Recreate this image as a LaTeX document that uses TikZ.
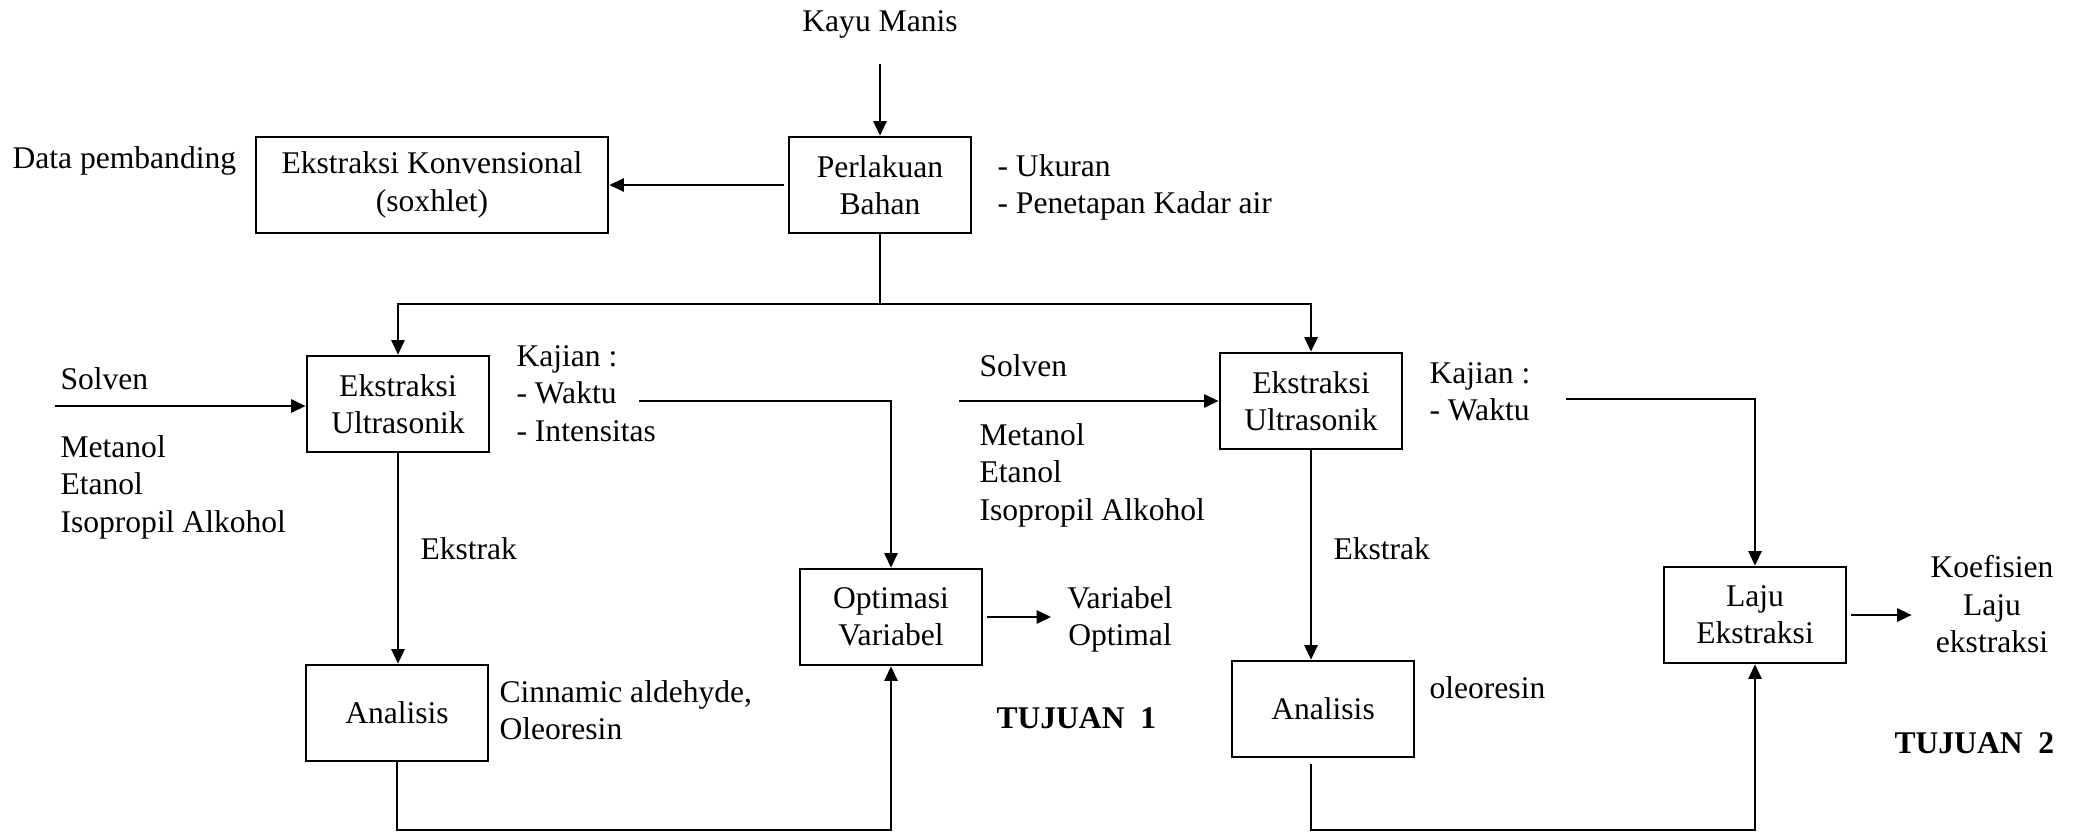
\documentclass[tikz,border=0pt]{standalone}
\usepackage{fontspec}
\setmainfont{Liberation Serif}
\usetikzlibrary{arrows.meta}

\tikzset{
	box/.style={draw, line width=1pt, minimum width=69.2pt, minimum height=36.5pt, align=center, inner sep=0pt},
	txt/.style={inner sep=0pt, align=left},
	arr/.style={-{Triangle[length=5.5pt,width=5pt]}, line width=0.8pt},
	ln/.style={line width=0.8pt},
	tujuan/.style={inner sep=0pt, anchor=base west, font=\fontsize{12}{14.2}\selectfont\bfseries},
}

\begin{document}
\begin{tikzpicture}[x=0.38pt, y=-0.38pt, font=\fontsize{12}{14.2}\selectfont]
	\useasboundingbox (0,0) rectangle (2082,833);

	\node [box] (bahan) at (880,185) {Perlakuan\\Bahan};
	\node [box, minimum width=133.8pt] (konv) at (432,185) {Ekstraksi Konvensional\\(soxhlet)};
	\node [box] (ult1) at (398,404) {Ekstraksi\\Ultrasonik};
	\node [box] (ana1) at (397,713) {Analisis};
	\node [box] (opt) at (891,617) {Optimasi\\Variabel};
	\node [box] (ult2) at (1311,401) {Ekstraksi\\Ultrasonik};
	\node [box] (ana2) at (1323,709) {Analisis};
	\node [box] (laju) at (1755,615) {Laju\\Ekstraksi};

	\node [txt, anchor=base] (kayu) at (880,32) {Kayu Manis};
	\node [txt, anchor=base west] (data) at (12,168) {Data pembanding};
	\node [txt, anchor=north west] (uk) at (997,154) {- Ukuran\\- Penetapan Kadar air};

	\node [txt, anchor=base west] (sol1) at (60,389) {Solven};
	\node [txt, anchor=north west] (pel1) at (60,435) {Metanol\\Etanol\\Isopropil Alkohol};
	\node [txt, anchor=north west] (kaj1) at (516,345) {Kajian :\\- Waktu\\- Intensitas};
	\node [txt, anchor=base west] (eks1) at (420,559) {Ekstrak};
	\node [txt, anchor=north west] (has1) at (499,680) {Cinnamic aldehyde,\\Oleoresin};
	\node [txt, anchor=north, align=center] (vo) at (1120,586) {Variabel\\Optimal};
	\node [tujuan] (tj1) at (996,728) {TUJUAN\ \ 1};

	\node [txt, anchor=base west] (sol2) at (979,376) {Solven};
	\node [txt, anchor=north west] (pel2) at (979,423) {Metanol\\Etanol\\Isopropil Alkohol};
	\node [txt, anchor=north west] (kaj2) at (1429,362) {Kajian :\\- Waktu};
	\node [txt, anchor=base west] (eks2) at (1333,559) {Ekstrak};
	\node [txt, anchor=base west] (has2) at (1429,698) {oleoresin};
	\node [txt, anchor=north, align=center] (koef) at (1992,555) {Koefisien\\Laju\\ekstraksi};
	\node [tujuan] (tj2) at (1894,753) {TUJUAN\ \ 2};

	\coordinate (pisah) at (880,304);
	\coordinate (dasar) at (0,830);
	\coordinate (s1) at (55,406);
	\coordinate (s2) at (959,401);
	\coordinate (w1) at (639,401);
	\coordinate (w2) at (1566,399);

	\draw [arr, shorten <=9.5pt] (kayu) -- (bahan);
	\draw [arr, shorten <=1.5pt] (bahan) -- (konv);
	\draw [ln] (bahan) -- (pisah);
	\draw [arr] (pisah) -| (ult1);
	\draw [arr] (pisah) -| (ult2);

	\draw [arr] (s1) -- (s1 -| ult1.west);
	\draw [arr] (w1) -| (opt);
	\draw [arr] (ult1) -- (ult1 |- ana1.north);
	\draw [arr] (ana1) -- (ana1 |- dasar) -| (opt);
	\draw [arr, shorten <=1.5pt, shorten >=6pt] (opt.east) -- (opt.east -| vo.west);

	\draw [arr] (s2) -- (ult2);
	\draw [arr] (w2) -| (laju);
	\draw [arr] (ult2) -- (ult2 |- ana2.north);
	\draw [arr, shorten <=2pt] (ult2 |- ana2.south) -- (ult2 |- dasar) -| (laju);
	\draw [arr, shorten <=1.5pt, shorten >=7pt] (laju.east) -- (laju.east -| koef.west);
\end{tikzpicture}
\end{document}
